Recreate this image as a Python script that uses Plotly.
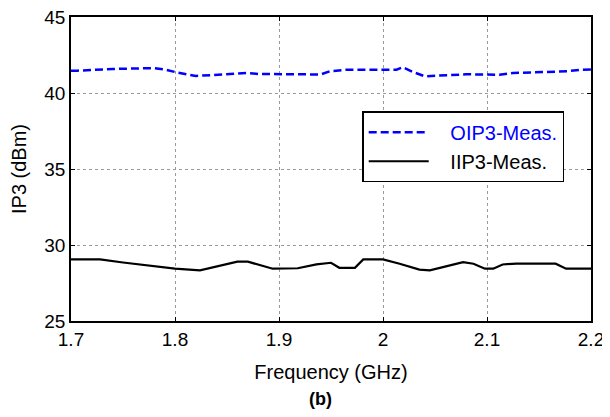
import plotly.graph_objects as go

# OIP3 measured (blue dashed)
oip3_freq = [1.70, 1.706, 1.74, 1.78, 1.79, 1.80, 1.82, 1.85, 1.87, 1.88, 1.92, 1.94,
             1.949, 1.965, 2.013, 2.019, 2.029, 2.04, 2.08, 2.112, 2.125, 2.15, 2.177, 2.19, 2.20]
oip3_val = [41.47, 41.47, 41.58, 41.64, 41.55, 41.38, 41.12, 41.25, 41.32, 41.25, 41.2, 41.22,
            41.43, 41.53, 41.53, 41.69, 41.38, 41.1, 41.23, 41.2, 41.32, 41.38, 41.43, 41.53, 41.55]

# IIP3 measured (black solid)
iip3_freq = [1.70, 1.728, 1.75, 1.783, 1.80, 1.824, 1.845, 1.86, 1.87, 1.894, 1.918, 1.936,
             1.95, 1.958, 1.973, 1.981, 2.00, 2.016, 2.035, 2.045, 2.077, 2.087, 2.098, 2.106,
             2.115, 2.128, 2.166, 2.176, 2.20]
iip3_val = [29.05, 29.05, 28.85, 28.55, 28.44, 28.33, 28.65, 28.9, 28.9, 28.44, 28.47, 28.72,
            28.83, 28.5, 28.5, 29.05, 29.05, 28.77, 28.38, 28.33, 28.87, 28.77, 28.44, 28.44,
            28.72, 28.78, 28.77, 28.44, 28.44]

x_ticks = [1.7, 1.8, 1.9, 2.0, 2.1, 2.2]
x_labels = ['1.7', '1.8', '1.9', '2', '2.1', '2.2']
y_ticks = [25, 30, 35, 40, 45]

FONT = 'Liberation Sans, Arial, sans-serif'
PAD = '&nbsp;&nbsp;&nbsp;'  # matlab leaves a gap between line sample and text

fig = go.Figure()
fig.add_trace(go.Scatter(x=oip3_freq, y=oip3_val, mode='lines',
                         name=PAD + '<span style="color:#0000ff">OIP3-Meas.</span>',
                         legendgroup='a',
                         line=dict(color='#0000ff', width=2.5, dash='8px,4px')))
fig.add_trace(go.Scatter(x=iip3_freq, y=iip3_val, mode='lines',
                         name=PAD + 'IIP3-Meas.', legendgroup='b',
                         line=dict(color='black', width=2.2)))

axis_common = dict(showline=True, linecolor='black', linewidth=1.5, mirror='ticks',
                   ticks='inside', ticklen=4, tickcolor='black', automargin=False,
                   ticklabeloverflow='allow',
                   showgrid=True, gridcolor='#9a9a9a', gridwidth=0.8, griddash='dot',
                   zeroline=False, tickfont=dict(size=19, color='black'))

fig.update_xaxes(range=[1.7, 2.2], tickvals=x_ticks, ticktext=x_labels,
                 title=dict(text='Frequency (GHz)', font=dict(size=20, color='black'), standoff=16),
                 **axis_common)
fig.update_yaxes(range=[25, 45], tickvals=y_ticks,
                 title=dict(text='IP3 (dBm)', font=dict(size=20, color='black'), standoff=18),
                 **axis_common)

fig.add_annotation(text='<b>(b)</b>', xref='paper', yref='paper', x=0.48, y=-0.258,
                   showarrow=False, font=dict(size=18, color='black'),
                   xanchor='center', yanchor='middle')

# page body adds an 8px offset, so the figure is 8px smaller than the window
fig.update_layout(
    width=602, height=409,
    margin=dict(l=63, r=19, t=9, b=96),
    plot_bgcolor='white', paper_bgcolor='white',
    font=dict(family=FONT, color='black'),
    legend=dict(x=0.56, y=0.69, xanchor='left', yanchor='top',
                bgcolor='white', bordercolor='black', borderwidth=1.5,
                font=dict(size=20), tracegroupgap=0, itemwidth=60),
)

fig.write_html("out.html")
